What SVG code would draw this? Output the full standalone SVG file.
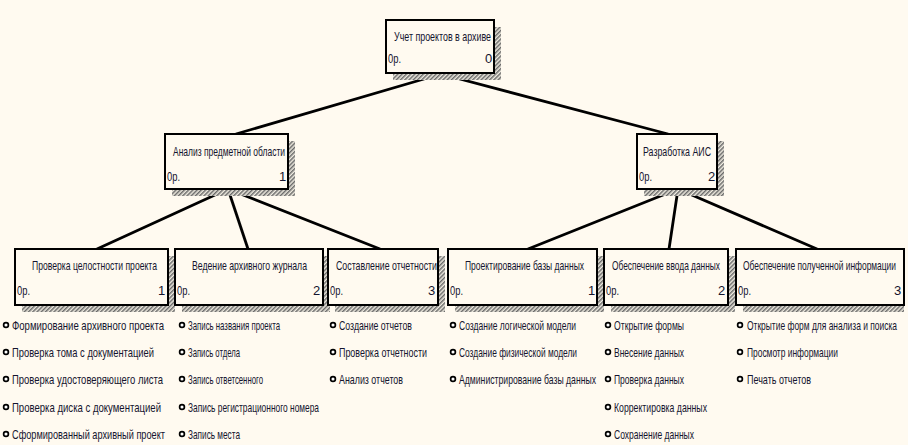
<svg xmlns="http://www.w3.org/2000/svg" width="908" height="445" viewBox="0 0 908 445">
<defs>
<pattern id="hatch" width="3" height="3" patternUnits="userSpaceOnUse" patternTransform="rotate(45)">
<rect width="3" height="3" fill="#efebe0"/>
<rect width="1.5" height="3" fill="#6a6a6a"/>
</pattern>
<g id="bullet"><circle r="2.4" fill="#fff" stroke="#000" stroke-width="1.7"/></g>
</defs>
<style>
.bg{fill:#fffaf0}
.box{fill:#fffaf0;stroke:#000;stroke-width:2}
.sh{fill:url(#hatch)}
text{font-family:"Liberation Sans",Arial,sans-serif;font-size:13px;fill:#14142e}
.c line{stroke:#000;stroke-width:2.8;stroke-linecap:round}
</style>
<rect class="bg" width="908" height="445"/>

<g id="connectors" class="c">
<line x1="441" y1="74" x2="236" y2="134"/>
<line x1="441" y1="74" x2="668" y2="134"/>
<line x1="228" y1="189" x2="97" y2="249"/>
<line x1="228" y1="189" x2="248" y2="249"/>
<line x1="228" y1="189" x2="380" y2="249"/>
<line x1="678" y1="189" x2="528" y2="249"/>
<line x1="678" y1="189" x2="669" y2="249"/>
<line x1="678" y1="189" x2="817" y2="249"/>
</g>

<g id="n0">
<rect class="sh" x="393" y="27" width="108" height="53"/>
<rect class="box" x="386" y="20" width="108" height="53"/>
<text x="394" y="41" textLength="97" lengthAdjust="spacingAndGlyphs">Учет проектов в архиве</text>
<text x="388" y="63" textLength="13" lengthAdjust="spacingAndGlyphs">0р.</text>
<text x="485" y="63">0</text>
</g>

<g id="n1">
<rect class="sh" x="172" y="141" width="123" height="55"/>
<rect class="box" x="165" y="134" width="123" height="55"/>
<text x="173" y="156" textLength="112" lengthAdjust="spacingAndGlyphs">Анализ предметной области</text>
<text x="167" y="181" textLength="13" lengthAdjust="spacingAndGlyphs">0р.</text>
<text x="279" y="181">1</text>
</g>

<g id="n2">
<rect class="sh" x="644" y="141" width="80" height="55"/>
<rect class="box" x="637" y="134" width="80" height="55"/>
<text x="643" y="156" textLength="68" lengthAdjust="spacingAndGlyphs">Разработка АИС</text>
<text x="639" y="181" textLength="13" lengthAdjust="spacingAndGlyphs">0р.</text>
<text x="708" y="181">2</text>
</g>

<g id="n11">
<rect class="sh" x="22" y="256" width="153" height="56"/>
<rect class="box" x="15" y="249" width="153" height="56"/>
<text x="32" y="270" textLength="125" lengthAdjust="spacingAndGlyphs">Проверка целостности проекта</text>
<text x="17" y="295" textLength="13" lengthAdjust="spacingAndGlyphs">0р.</text>
<text x="158" y="295">1</text>
</g>

<g id="n12">
<rect class="sh" x="182" y="256" width="148" height="56"/>
<rect class="box" x="175" y="249" width="148" height="56"/>
<text x="192" y="270" textLength="115" lengthAdjust="spacingAndGlyphs">Ведение архивного журнала</text>
<text x="177" y="295" textLength="13" lengthAdjust="spacingAndGlyphs">0р.</text>
<text x="313" y="295">2</text>
</g>

<g id="n13">
<rect class="sh" x="335" y="256" width="110" height="56"/>
<rect class="box" x="328" y="249" width="110" height="56"/>
<text x="336" y="270" textLength="101" lengthAdjust="spacingAndGlyphs">Составление отчетности</text>
<text x="330" y="295" textLength="13" lengthAdjust="spacingAndGlyphs">0р.</text>
<text x="428" y="295">3</text>
</g>

<g id="n21">
<rect class="sh" x="455" y="256" width="149" height="56"/>
<rect class="box" x="448" y="249" width="149" height="56"/>
<text x="465" y="270" textLength="119" lengthAdjust="spacingAndGlyphs">Проектирование базы данных</text>
<text x="450" y="295" textLength="13" lengthAdjust="spacingAndGlyphs">0р.</text>
<text x="588" y="295">1</text>
</g>

<g id="n22">
<rect class="sh" x="611" y="256" width="124" height="56"/>
<rect class="box" x="604" y="249" width="124" height="56"/>
<text x="612" y="270" textLength="108" lengthAdjust="spacingAndGlyphs">Обеспечение ввода данных</text>
<text x="606" y="295" textLength="13" lengthAdjust="spacingAndGlyphs">0р.</text>
<text x="718" y="295">2</text>
</g>

<g id="n23">
<rect class="sh" x="743" y="256" width="161" height="56"/>
<rect class="box" x="736" y="249" width="168" height="56"/>
<text x="743" y="270" textLength="153" lengthAdjust="spacingAndGlyphs">Обеспечение полученной информации</text>
<text x="738" y="295" textLength="13" lengthAdjust="spacingAndGlyphs">0р.</text>
<text x="894" y="295">3</text>
</g>

<g id="list1">
<use href="#bullet" x="6" y="325"/><text x="12" y="330" textLength="152" lengthAdjust="spacingAndGlyphs">Формирование архивного проекта</text>
<use href="#bullet" x="6" y="352"/><text x="12" y="357" textLength="142" lengthAdjust="spacingAndGlyphs">Проверка тома с документацией</text>
<use href="#bullet" x="6" y="379"/><text x="12" y="384" textLength="151" lengthAdjust="spacingAndGlyphs">Проверка удостоверяющего листа</text>
<use href="#bullet" x="6" y="407"/><text x="12" y="412" textLength="149" lengthAdjust="spacingAndGlyphs">Проверка диска с документацией</text>
<use href="#bullet" x="6" y="434"/><text x="12" y="439" textLength="153" lengthAdjust="spacingAndGlyphs">Сформированный архивный проект</text>
</g>
<g id="list2">
<use href="#bullet" x="182" y="325"/><text x="188" y="330" textLength="92" lengthAdjust="spacingAndGlyphs">Запись названия проекта</text>
<use href="#bullet" x="182" y="352"/><text x="188" y="357" textLength="52" lengthAdjust="spacingAndGlyphs">Запись отдела</text>
<use href="#bullet" x="182" y="379"/><text x="188" y="384" textLength="75" lengthAdjust="spacingAndGlyphs">Запись ответсенного</text>
<use href="#bullet" x="182" y="407"/><text x="188" y="412" textLength="131" lengthAdjust="spacingAndGlyphs">Запись регистрационного номера</text>
<use href="#bullet" x="182" y="434"/><text x="188" y="439" textLength="52" lengthAdjust="spacingAndGlyphs">Запись места</text>
</g>
<g id="list3">
<use href="#bullet" x="333" y="325"/><text x="339" y="330" textLength="73" lengthAdjust="spacingAndGlyphs">Создание отчетов</text>
<use href="#bullet" x="333" y="352"/><text x="339" y="357" textLength="88" lengthAdjust="spacingAndGlyphs">Проверка отчетности</text>
<use href="#bullet" x="333" y="379"/><text x="339" y="384" textLength="64" lengthAdjust="spacingAndGlyphs">Анализ отчетов</text>
</g>
<g id="list4">
<use href="#bullet" x="453" y="325"/><text x="459" y="330" textLength="117" lengthAdjust="spacingAndGlyphs">Создание логической модели</text>
<use href="#bullet" x="453" y="352"/><text x="459" y="357" textLength="118" lengthAdjust="spacingAndGlyphs">Создание физической модели</text>
<use href="#bullet" x="453" y="379"/><text x="459" y="384" textLength="137" lengthAdjust="spacingAndGlyphs">Администрирование базы данных</text>
</g>
<g id="list5">
<use href="#bullet" x="608" y="325"/><text x="614" y="330" textLength="70" lengthAdjust="spacingAndGlyphs">Открытие формы</text>
<use href="#bullet" x="608" y="352"/><text x="614" y="357" textLength="70" lengthAdjust="spacingAndGlyphs">Внесение данных</text>
<use href="#bullet" x="608" y="379"/><text x="614" y="384" textLength="70" lengthAdjust="spacingAndGlyphs">Проверка данных</text>
<use href="#bullet" x="608" y="407"/><text x="614" y="412" textLength="93" lengthAdjust="spacingAndGlyphs">Корректировка данных</text>
<use href="#bullet" x="608" y="434"/><text x="614" y="439" textLength="80" lengthAdjust="spacingAndGlyphs">Сохранение данных</text>
</g>
<g id="list6">
<use href="#bullet" x="740" y="325"/><text x="747" y="330" textLength="150" lengthAdjust="spacingAndGlyphs">Открытие форм для анализа и поиска</text>
<use href="#bullet" x="740" y="352"/><text x="747" y="357" textLength="91" lengthAdjust="spacingAndGlyphs">Просмотр информации</text>
<use href="#bullet" x="740" y="379"/><text x="747" y="384" textLength="64" lengthAdjust="spacingAndGlyphs">Печать отчетов</text>
</g>
</svg>
